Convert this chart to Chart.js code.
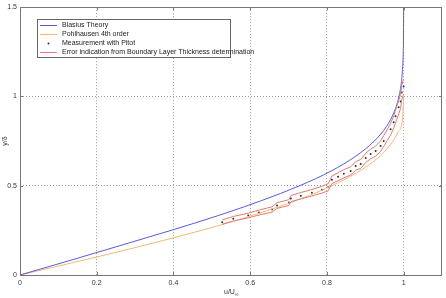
<!DOCTYPE html>
<html><head><meta charset="utf-8">
<script src="https://cdn.jsdelivr.net/npm/chart.js@4/dist/chart.umd.min.js"></script>
<style>html,body{margin:0;padding:0;background:#fff}#wrap{width:446px;height:298px}</style>
</head><body><div id="wrap"><canvas id="c" width="446" height="298"></canvas></div>
<script>
// Blasius theory (u/U vs y/delta)
const blasiusU = [0,0.1328,0.2647,0.3938,0.5168,0.6298,0.7290,0.8115,0.8761,0.9233,0.9555,0.9759,0.9878,0.9943,0.9975,0.9990,0.9996,1.0];
const blasiusY = [0,0.083,0.167,0.250,0.333,0.417,0.500,0.583,0.667,0.750,0.833,0.917,1.000,1.083,1.167,1.250,1.333,1.5];
// Pohlhausen 4th order
const pohlU = [0,0.1981,0.3856,0.5541,0.6976,0.8125,0.8976,0.9541,0.9856,0.9981,1.0];
const pohlY = [0,0.1,0.2,0.3,0.4,0.5,0.6,0.7,0.8,0.9,1.0];
// Measurement with Pitot
const measU = [0.527,0.556,0.595,0.623,0.657,0.670,0.701,0.706,0.732,0.761,0.787,0.803,0.813,0.829,0.844,0.862,0.875,0.888,0.901,0.914,0.927,0.940,0.948,0.966,0.974,0.979,0.987,0.992,0.995,1.0];
const measY = [0.296,0.315,0.333,0.350,0.367,0.389,0.406,0.428,0.444,0.461,0.478,0.491,0.533,0.550,0.567,0.583,0.611,0.622,0.656,0.678,0.694,0.722,0.750,0.817,0.856,0.889,0.939,0.972,1.022,1.056];
// Error indication (upper / lower)
const errUpperY = [0.308,0.328,0.346,0.364,0.382,0.405,0.422,0.445,0.462,0.479,0.497,0.511,0.554,0.572,0.590,0.606,0.635,0.647,0.682,0.705,0.722,0.751,0.780,0.850,0.890,0.925,0.977,1.011,1.063,1.098];
const errLowerY = [0.284,0.302,0.320,0.336,0.352,0.373,0.390,0.411,0.426,0.443,0.459,0.471,0.512,0.528,0.544,0.560,0.587,0.597,0.630,0.651,0.666,0.693,0.720,0.784,0.822,0.853,0.901,0.933,0.981,1.014];
const xTicks = [0,0.2,0.4,0.6,0.8,1];
const yTicks = [0,0.5,1,1.5];
const labels = ['Blasius Theory','Pohlhausen 4th order','Measurement with Pitot','Error indication from Boundary Layer Thickness determination'];

const pts = (xs, ys) => xs.map((x, i) => ({x: x, y: ys[i]}));
const FONT = 'Liberation Sans, Arial, sans-serif';

const blue = '#5a5ad6', orange = '#f2b877', red = '#e07a7a', dot = '#1f3a1f';

const frame = {
  id: 'frame',
  afterDraw(chart) {
    const ctx = chart.ctx, a = chart.chartArea;
    ctx.save();
    ctx.strokeStyle = '#777'; ctx.lineWidth = 1;
    ctx.strokeRect(Math.round(a.left) + 0.5, Math.round(a.top) + 0.5, Math.round(a.right - a.left) - 1, Math.round(a.bottom - a.top));
    const xs = chart.scales.x, ys = chart.scales.y;
    ctx.beginPath();
    xTicks.forEach(v => { const px = Math.round(xs.getPixelForValue(v)) + 0.5; ctx.moveTo(px, a.bottom); ctx.lineTo(px, a.bottom - 3); ctx.moveTo(px, a.top); ctx.lineTo(px, a.top + 3); });
    yTicks.forEach(v => { const py = Math.round(ys.getPixelForValue(v)) + 0.5; ctx.moveTo(a.left, py); ctx.lineTo(a.left + 3, py); ctx.moveTo(a.right, py); ctx.lineTo(a.right - 3, py); });
    ctx.stroke();
    // legend
    const lx = 37, ly = 19, lw = 193, lh = 38;
    ctx.fillStyle = '#fff';
    ctx.fillRect(lx, ly, lw, lh);
    ctx.strokeStyle = '#666';
    ctx.strokeRect(lx + 0.5, ly + 0.5, lw, lh);
    ctx.font = '7px ' + FONT;
    ctx.textBaseline = 'middle';
    const cols = [blue, orange, null, red];
    labels.forEach((t, i) => {
      const y = ly + 6 + i * 9 + 0.5;
      if (cols[i]) {
        ctx.strokeStyle = cols[i]; ctx.beginPath(); ctx.moveTo(lx + 3, y); ctx.lineTo(lx + 20, y); ctx.stroke();
      } else {
        ctx.fillStyle = dot; ctx.beginPath(); ctx.arc(lx + 11.5, y, 1, 0, Math.PI * 2); ctx.fill();
      }
      ctx.fillStyle = '#222';
      ctx.fillText(t, lx + 25, y);
    });
    // axis titles
    ctx.fillStyle = '#333';
    ctx.font = '7px ' + FONT;
    ctx.textBaseline = 'alphabetic';
    ctx.textAlign = 'left';
    const tx = 224;
    ctx.fillText('u/U', tx, 294);
    const w = ctx.measureText('u/U').width;
    ctx.font = '5px ' + FONT;
    ctx.fillText('\u221E', tx + w, 296);
    ctx.save();
    ctx.translate(7, 141);
    ctx.rotate(-Math.PI / 2);
    ctx.font = '7px ' + FONT;
    ctx.textAlign = 'center';
    ctx.fillText('y/\u03B4', 0, 0);
    ctx.restore();
    ctx.restore();
  }
};

new Chart(document.getElementById('c'), {
  type: 'scatter',
  data: {
    datasets: [
      {label: labels[3], data: pts(measU, errUpperY), showLine: true, borderColor: red, borderWidth: 1, pointRadius: 0, tension: 0},
      {label: labels[3] + ' lower', data: pts(measU, errLowerY), showLine: true, borderColor: red, borderWidth: 1, pointRadius: 0, tension: 0},
      {label: labels[0], data: pts(blasiusU, blasiusY), showLine: true, borderColor: blue, borderWidth: 1, pointRadius: 0, cubicInterpolationMode: 'monotone'},
      {label: labels[1], data: pts(pohlU, pohlY), showLine: true, borderColor: orange, borderWidth: 1, pointRadius: 0, cubicInterpolationMode: 'monotone'},
      {label: labels[2], data: pts(measU, measY), showLine: false, backgroundColor: dot, borderColor: dot, pointRadius: 1, pointBorderWidth: 0}
    ]
  },
  options: {
    responsive: false,
    animation: false,
    devicePixelRatio: 1,
    layout: {padding: {top: 3, right: 1, left: 0, bottom: 0}},
    plugins: {legend: {display: false}, tooltip: {enabled: false}},
    scales: {
      x: {
        type: 'linear', min: 0, max: 1.1,
        afterBuildTicks: s => { s.ticks = xTicks.map(v => ({value: v})); },
        afterFit: s => { s.height = 23; },
        grid: {color: '#999', drawTicks: false, lineWidth: 1},
        border: {display: false, dash: [1, 2]},
        ticks: {font: {family: FONT, size: 7}, color: '#333', padding: 4, maxRotation: 0, callback: v => String(v)}
      },
      y: {
        type: 'linear', min: 0, max: 1.5,
        afterBuildTicks: s => { s.ticks = yTicks.map(v => ({value: v})); },
        afterFit: s => { s.width = 20; },
        grid: {color: '#999', drawTicks: false, lineWidth: 1},
        border: {display: false, dash: [1, 2]},
        ticks: {font: {family: FONT, size: 7}, color: '#333', padding: 3, callback: v => String(v)}
      }
    }
  },
  plugins: [frame]
});
</script></body></html>
